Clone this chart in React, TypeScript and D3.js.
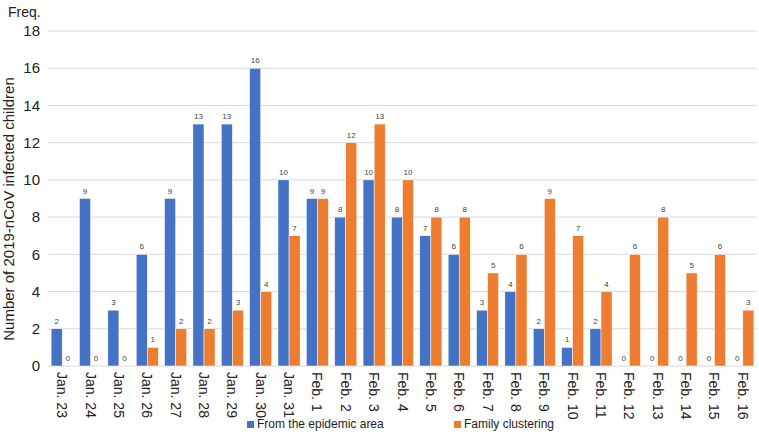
import React from "react";
import * as d3 from "d3";

const categories = ["Jan. 23","Jan. 24","Jan. 25","Jan. 26","Jan. 27","Jan. 28","Jan. 29","Jan. 30","Jan. 31","Feb. 1","Feb. 2","Feb. 3","Feb. 4","Feb. 5","Feb. 6","Feb. 7","Feb. 8","Feb. 9","Feb. 10","Feb. 11","Feb. 12","Feb. 13","Feb. 14","Feb. 15","Feb. 16"];
const epidemicArea = [2,9,3,6,9,13,13,16,10,9,8,10,8,7,6,3,4,2,1,2,0,0,0,0,0];
const familyClustering = [0,0,0,1,2,2,3,4,7,9,12,13,10,8,8,5,6,9,7,4,6,8,5,6,3];
const yTicks = [0,2,4,6,8,10,12,14,16,18];
const seriesNames = ["From the epidemic area","Family clustering"];
const colors = ["#4472C4","#ED7D31"];

const W = 759, H = 436;
const left = 48, right = 757, top = 31, bottom = 366;

export default function App() {
  const x = d3.scaleBand<string>().domain(categories).range([left, right]).paddingInner(0.22).paddingOuter(0.11);
  const sub = d3.scaleBand<number>().domain([0,1]).range([0, x.bandwidth()]);
  const y = d3.scaleLinear().domain([0,18]).range([bottom, top]);
  const series = [epidemicArea, familyClustering];
  const font = "Helvetica, Arial, 'Liberation Sans', sans-serif";
  return (
    <svg width={W} height={H} style={{position:"absolute",left:0,top:0,background:"#fff"}} fontFamily={font}>
      {yTicks.map(t => (
        <g key={t}>
          <line x1={left} x2={right} y1={y(t)} y2={y(t)} stroke="#d9d9d9" strokeWidth={1}/>
          <text x={40} y={y(t)} dy="0.35em" textAnchor="end" fontSize={15} fill="#222">{t}</text>
        </g>
      ))}
      <text x={8} y={17} fontSize={14} fill="#222">Freq.</text>
      <text transform={`translate(14,209) rotate(-90)`} textAnchor="middle" fontSize={15} fill="#222">Number of 2019-nCoV infected children</text>
      {series.map((vals, si) => vals.map((v, i) => {
        const bx = (x(categories[i]) as number) + (sub(si) as number);
        const bw = sub.bandwidth();
        return (
          <g key={`${si}-${i}`}>
            {v > 0 && <rect x={bx} y={y(v)} width={bw} height={y(0)-y(v)} fill={colors[si]} stroke="#fff" strokeWidth={0.5}/>}
            <text x={bx + bw/2} y={y(v) - 5} textAnchor="middle" fontSize={8} fill="#444">{v}</text>
          </g>
        );
      }))}
      {categories.map(c => (
        <text key={c} transform={`translate(${(x(c) as number) + x.bandwidth()/2 - 5},${bottom+6}) rotate(90)`} fontSize={14} fill="#222">{c}</text>
      ))}
      {seriesNames.map((n, i) => {
        const lx = i === 0 ? 247 : 454;
        return (
          <g key={n}>
            <rect x={lx} y={421} width={7} height={7} fill={colors[i]}/>
            <text x={lx + 10} y={428} fontSize={12} fill="#222">{n}</text>
          </g>
        );
      })}
    </svg>
  );
}
